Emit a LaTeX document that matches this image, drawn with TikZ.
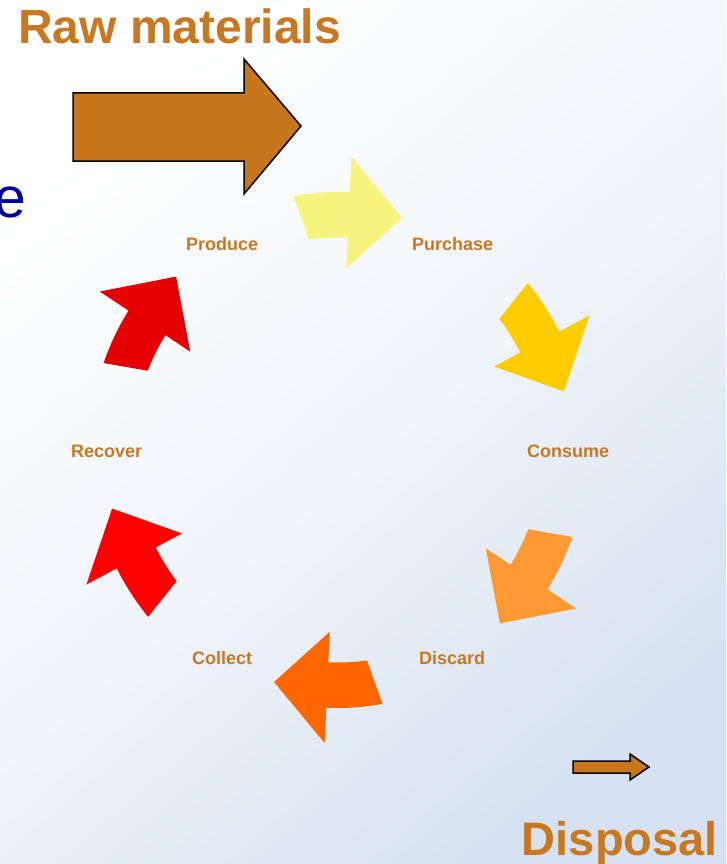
\documentclass[tikz,border=0pt]{standalone}
\usepackage{fontspec}
\setmainfont{Liberation Sans}
\definecolor{brownA}{HTML}{C8761C}
\definecolor{labelc}{HTML}{C87820}
\definecolor{yelA}{HTML}{F7F47E}
\definecolor{goldA}{HTML}{FFCC00}
\definecolor{orA}{HTML}{FF9933}
\definecolor{orB}{HTML}{FF6600}
\definecolor{redA}{HTML}{FF0000}
\definecolor{redB}{HTML}{E40000}
\definecolor{navyA}{HTML}{000099}
\definecolor{bgLR}{HTML}{D6E2F1}
\newcommand\cyclearrow[2]{%
  \fill[#2, shift={(338,450)}, xscale=0.965, rotate=#1]
    plot[domain=-100.3:-87.3, samples=16] (\x:258)
    -- (-87.3:293.4) -- (-74.05:241.3) -- (-87.3:182)
    -- (-87.3:213.5)
    -- plot[domain=-87.3:-98.1, samples=16] (\x:212.5)
    -- cycle;}
\tikzset{
  lbl/.style={text=labelc, font=\fontsize{18}{18}\selectfont\bfseries, inner sep=0pt},
  bigtitle/.style={text=labelc, font=\fontsize{48}{48}\selectfont\bfseries, inner sep=0pt},
  blockarrow/.style={draw=black, fill=brownA, line join=miter}
}
\begin{document}
\begin{tikzpicture}[x=1pt,y=-1pt]
\useasboundingbox (0,0) rectangle (726,864);
\clip (0,0) rectangle (726,864);
\shade[top color=white, bottom color=bgLR, middle color=white!65!bgLR, shading angle=40] (0,0) rectangle (726,864);

% partial word at left edge
\node[anchor=base west, inner sep=0pt, text=navyA, font=\fontsize{57}{57}\selectfont] (etext) at (-6,217) {e};

% titles
\node[bigtitle, anchor=base west] (raw) at (18,44) {Raw materials};
\node[bigtitle, font=\fontsize{47}{47}\selectfont\bfseries, anchor=base east] (disposal) at (718,855) {Disposal};

% input and output arrows
\draw[blockarrow, line width=1.5pt] (73,93) -- (244,93) -- (244,59) -- (301,126) -- (244,194) -- (244,161) -- (73,161) -- cycle;
\draw[blockarrow, line width=1.5pt] (573,761) -- (630,761) -- (630,754) -- (649,767) -- (630,780) -- (630,773) -- (573,773) -- cycle;

% cycle arrows
\cyclearrow{0}{yelA}
\cyclearrow{-60}{goldA}
\cyclearrow{-120}{orA}
\cyclearrow{-180}{orB}
\cyclearrow{-240}{redA}
\cyclearrow{-300}{redB}

% stage labels
\node[lbl, anchor=base west] (produce) at (186,250) {Produce};
\node[lbl, anchor=base west] (purchase) at (412,250) {Purchase};
\node[lbl, anchor=base west] (consume) at (527,457) {Consume};
\node[lbl, anchor=base west] (discard) at (419,664) {Discard};
\node[lbl, anchor=base west] (collect) at (192,664) {Collect};
\node[lbl, anchor=base west] (recover) at (71,457) {Recover};
\end{tikzpicture}
\end{document}
